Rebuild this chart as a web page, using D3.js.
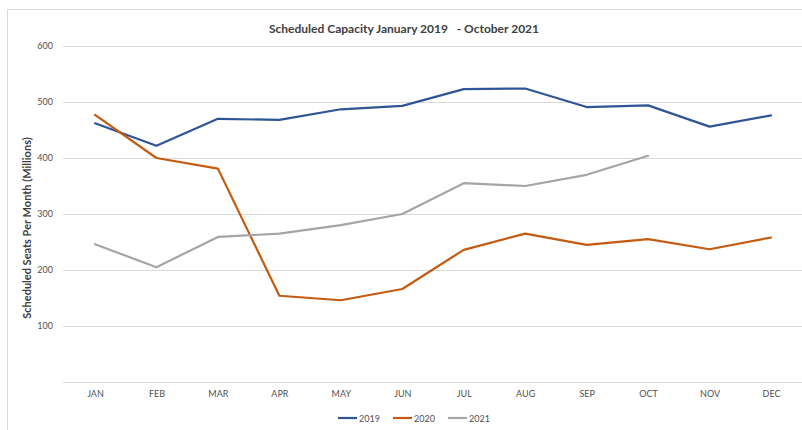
<!DOCTYPE html>
<html><head><meta charset="utf-8">
<script src="https://cdn.jsdelivr.net/npm/d3@7"></script>
<style>
body{margin:0;background:#fff;}
svg{display:block;font-family:Lato,"Open Sans",sans-serif;}
</style></head>
<body><svg id="c" width="802" height="430"></svg>
<script>
const months = ["JAN","FEB","MAR","APR","MAY","JUN","JUL","AUG","SEP","OCT","NOV","DEC"];
const s2019 = [462,422,470,468,487,493,523,524,491,494,456,476];
const s2020 = [477,400,381,154,146,166,236,265,245,255,237,258];
const s2021 = [246,205,259,265,280,300,355,350,370,404];
const seriesNames = ["2019","2020","2021"];
const seriesColors = ["#2f5597","#c55a11","#a5a5a5"];
const yTicks = [100,200,300,400,500,600];

const svg = d3.select("#c");
// frame
svg.append("rect").attr("x",7.5).attr("y",9.5).attr("width",820).attr("height",440)
  .attr("fill","none").attr("stroke","#d9d9d9");

const x = d3.scalePoint().domain(months).range([95,771]);
const y = d3.scaleLinear().domain([0,600]).range([382,46]);

// gridlines
svg.append("g").selectAll("line").data([0].concat(yTicks)).join("line")
  .attr("x1",63).attr("x2",802)
  .attr("y1",d=>Math.round(y(d))+0.5).attr("y2",d=>Math.round(y(d))+0.5)
  .attr("stroke","#d9d9d9").attr("stroke-width",1);

// y axis labels
const yAxis = d3.axisLeft(y).tickValues(yTicks).tickSize(0).tickPadding(0);
const ga = svg.append("g").attr("transform","translate(53,0)").call(yAxis);
ga.select(".domain").remove();
ga.selectAll("text").attr("fill","#505050").style("font-size","9px").style("font-family","Lato,sans-serif");

// x axis labels
const xAxis = d3.axisBottom(x).tickSize(0).tickPadding(0);
const gx = svg.append("g").attr("transform","translate(0,391)").call(xAxis);
gx.select(".domain").remove();
gx.selectAll("text").attr("fill","#505050").style("font-size","9px").style("font-family","Lato,sans-serif");

// lines
const data = [s2019,s2020,s2021];
const line = d3.line().x((d,i)=>x(months[i])).y(d=>y(d));
svg.append("g").selectAll("path").data(data).join("path")
  .attr("d",line).attr("fill","none")
  .attr("stroke",(d,i)=>seriesColors[i]).attr("stroke-width",2.2)
  .attr("stroke-linejoin","round").attr("stroke-linecap","round");

// title
svg.append("text").attr("x",404).attr("y",33).attr("text-anchor","middle")
  .attr("fill","#404040").style("font-size","12px").style("font-weight","bold")
  .style("white-space","pre").text("Scheduled Capacity January 2019   - October 2021");

// y title
svg.append("text").attr("transform","translate(31,228) rotate(-90)").attr("text-anchor","middle")
  .attr("fill","#404040").style("font-size","11px").style("font-weight","bold")
  .text("Scheduled Seats Per Month (Millions)");

// legend
const legX = [338,393,448];
const lg = svg.append("g").selectAll("g").data(seriesNames).join("g")
  .attr("transform",(d,i)=>`translate(${legX[i]},418)`);
lg.append("line").attr("x1",0).attr("x2",19).attr("y1",0).attr("y2",0)
  .attr("stroke",(d,i)=>seriesColors[i]).attr("stroke-width",2.2);
lg.append("text").attr("x",21).attr("y",3.5).attr("fill","#505050")
  .style("font-size","9px").text(d=>d);
</script></body></html>
